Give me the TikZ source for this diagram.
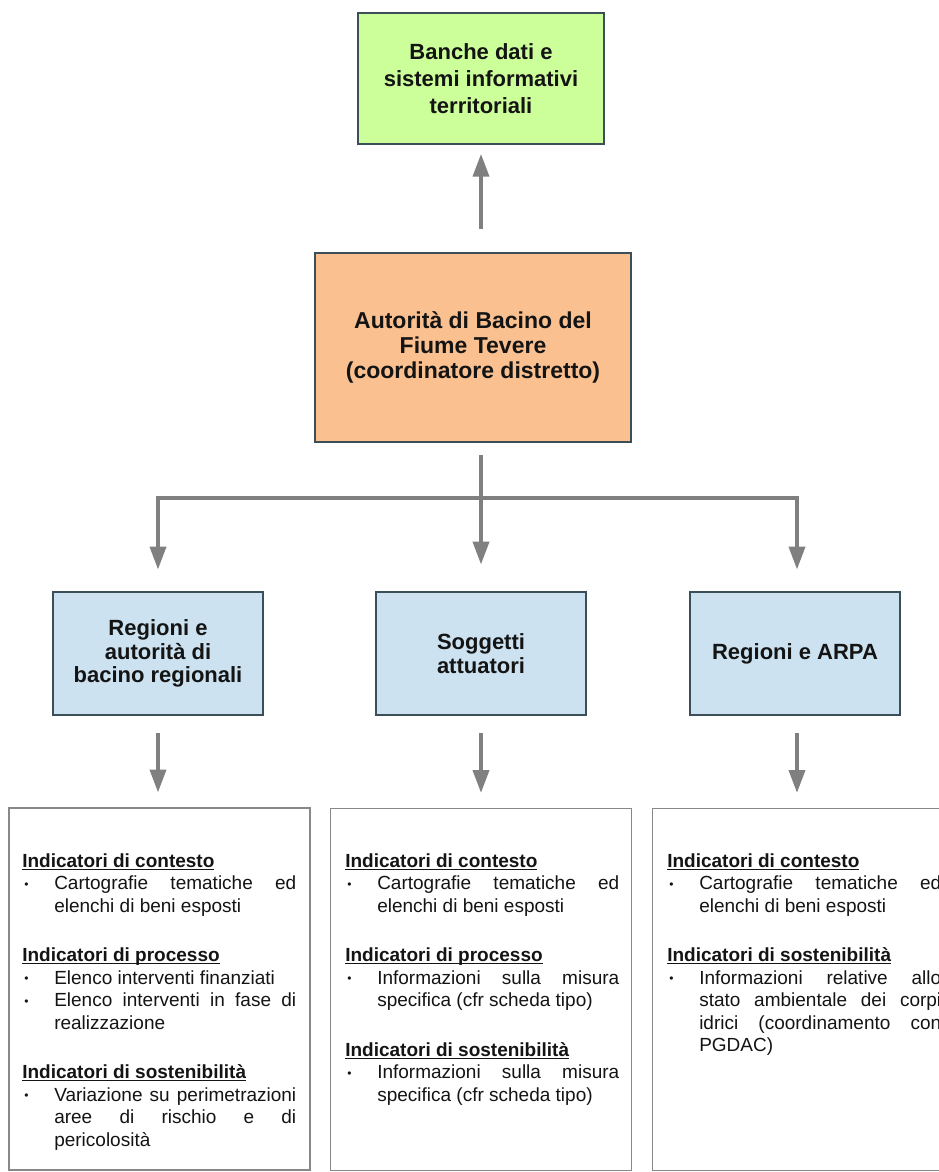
\documentclass[tikz,border=0pt]{standalone}
\usepackage{fontspec}
\setmainfont{Liberation Sans}
\usetikzlibrary{arrows.meta,calc}
\definecolor{greenfill}{RGB}{204,255,153}
\definecolor{orangefill}{RGB}{250,192,144}
\definecolor{bluefill}{RGB}{204,226,240}
\definecolor{boxline}{RGB}{60,78,88}
\definecolor{arrgray}{RGB}{128,128,128}
\definecolor{botline}{RGB}{136,136,136}
\definecolor{txt}{RGB}{20,20,20}
\newlength\Tjw \setlength\Tjw{181.5pt}
\newcommand\hdul[1]{\setbox0=\hbox{#1}\rlap{\rule[-2pt]{\wd0}{0.9pt}}\box0}
\newcommand\Tbul{\makebox[24pt][l]{\hspace{1.5pt}\raisebox{0.8pt}{\fontsize{9pt}{9pt}\selectfont •}}}
\newcommand\Thd[1]{\noindent\textbf{\hdul{#1}}\par}
\newcommand\Tbl[1]{\noindent\Tbul #1\par}
\newcommand\Tstr[1]{\hbox to \Tjw{\spaceskip=0pt plus 1fil\xspaceskip=0pt\relax #1}}
\newcommand\Tbj[1]{\noindent\Tbul\Tstr{#1}\par}
\newcommand\Tcl[1]{\noindent\hspace*{24pt}#1\par}
\newcommand\Tcj[1]{\noindent\hspace*{24pt}\Tstr{#1}\par}
\newcommand\Tgap{\vspace{20.25pt}}
\newcommand\txtsetup{\parindent=0pt\parskip=0pt\hbadness=10000\spaceskip=0pt\xspaceskip=0pt\relax}
\begin{document}
\begin{tikzpicture}[x=0.75pt,y=-0.75pt,
  topbox/.style={draw=boxline,line width=0.9pt,align=center,inner sep=0pt,text=txt},
  greenbox/.style={topbox,fill=greenfill,minimum width=184.5pt,minimum height=98.25pt,
    font=\fontsize{16.5pt}{20.25pt}\selectfont\bfseries},
  orangebox/.style={topbox,fill=orangefill,minimum width=237pt,minimum height=141.75pt,
    font=\fontsize{17.25pt}{18.75pt}\selectfont\bfseries},
  bluebox/.style={topbox,fill=bluefill,minimum width=157.5pt,minimum height=92.25pt,
    font=\fontsize{16.5pt}{17.6pt}\selectfont\bfseries},
  botbox/.style={draw=botline,line width=1pt,fill=white,minimum width=225.75pt,minimum height=271.5pt,inner sep=0pt},
  textblock/.style={anchor=north west,inner sep=0pt,text width=205.5pt,text=txt,
    font=\fontsize{14.25pt}{16.875pt}\selectfont},
  arr/.style={draw=arrgray,line width=2.6pt,-{Triangle[width=12pt,length=17pt]}},
  ln/.style={draw=arrgray,line width=2.6pt}]
\useasboundingbox (0,0) rectangle (939,1172);
\clip (0,0) rectangle (939,1172);
\fill[white] (0,0) rectangle (939,1172);

% boxes
\node[greenbox] (green) at (481,78.5) {Banche dati e\\sistemi informativi\\territoriali};
\node[orangebox] (orange) at (473,347.5) {Autorità di Bacino del\\Fiume Tevere\\(coordinatore distretto)};
\node[bluebox] (blueL) at (158,653.5) {Regioni e\\autorità di\\bacino regionali};
\node[bluebox] (blueC) at (481,653.5) {Soggetti\\attuatori};
\node[bluebox] (blueR) at (795,653.5) {Regioni e ARPA};

\node[botbox] (botL) at (159.5,989) {};
\node[botbox] (botC) at (481,989.5) {};
\node[botbox] (botR) at (803,989.5) {};

% connectors
\coordinate (upS) at (481,229);
\draw[arr] (upS) -- ([yshift=-7pt]green.south);

\coordinate (dS) at (481,455);
\coordinate (bar) at (481,498);
\coordinate (colL) at (158,0);
\coordinate (colR) at (797,0);
\draw[arr] (dS) -- ([yshift=20.25pt]blueC.north);
\draw[arr] (bar) -- (bar -| colL) -- ($(colL |- blueL.north)+(0,-22)$);
\draw[arr] (bar) -- (bar -| colR) -- ($(colR |- blueR.north)+(0,-22)$);

\draw[arr] ([yshift=-12.75pt]blueL.south) -- ($(blueL.south |- botL.north)+(0,-15)$);
\draw[arr] ([yshift=-12.75pt]blueC.south) -- ($(blueC.south |- botC.north)+(0,-15)$);
\draw[arr] ($(colR |- blueR.south)+(0,17)$) -- ($(colR |- botR.north)+(0,-15)$);

% texts
\node[textblock] (txtL) at (22,853) {\txtsetup
\Thd{Indicatori di contesto}
\Tbj{Cartografie tematiche ed}
\Tcl{elenchi di beni esposti}
\Tgap
\Thd{Indicatori di processo}
\Tbl{Elenco interventi finanziati}
\Tbj{Elenco interventi in fase di}
\Tcl{realizzazione}
\Tgap
\Thd{Indicatori di sostenibilità}
\Tbj{Variazione su perimetrazioni}
\Tcj{aree di rischio e di}
\Tcl{pericolosità}};

\node[textblock] (txtC) at (345,853) {\txtsetup
\Thd{Indicatori di contesto}
\Tbj{Cartografie tematiche ed}
\Tcl{elenchi di beni esposti}
\Tgap
\Thd{Indicatori di processo}
\Tbj{Informazioni sulla misura}
\Tcl{specifica (cfr scheda tipo)}
\Tgap
\Thd{Indicatori di sostenibilità}
\Tbj{Informazioni sulla misura}
\Tcl{specifica (cfr scheda tipo)}};

\node[textblock] (txtR) at (667,853) {\txtsetup
\Thd{Indicatori di contesto}
\Tbj{Cartografie tematiche ed}
\Tcl{elenchi di beni esposti}
\Tgap
\Thd{Indicatori di sostenibilità}
\Tbj{Informazioni relative allo}
\Tcj{stato ambientale dei corpi}
\Tcj{idrici (coordinamento con}
\Tcl{PGDAC)}};
\end{tikzpicture}
\end{document}
